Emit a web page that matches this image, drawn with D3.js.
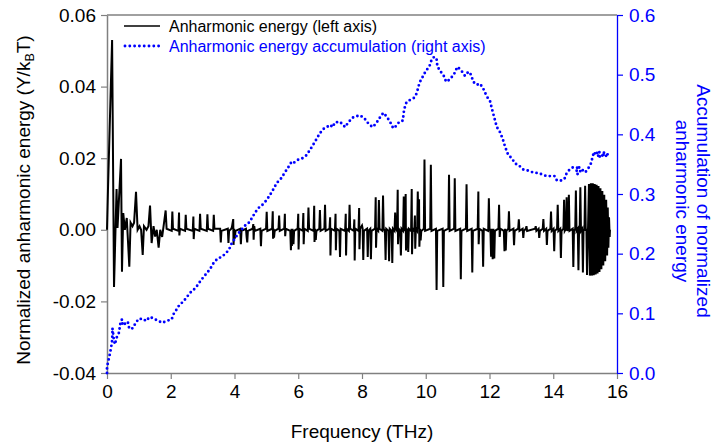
<!DOCTYPE html>
<html>
<head>
<meta charset="utf-8">
<script src="https://cdn.jsdelivr.net/npm/d3@7"></script>
<style>
  body { margin: 0; background: #fff; }
  text { font-family: "Liberation Sans", Arial, Helvetica, sans-serif; }
</style>
</head>
<body>
<svg id="chart" width="715" height="446"></svg>
<script>
// Anharmonic energy per mode: [frequency (THz), Y/kBT]
const energyPoints = [
  [0,0],[0.03,0.011],[0.16,0.053],[0.22,-0.016],[0.30,0.0114],[0.33,0.0005],[0.44,0.0198],[0.47,-0.0117],
  [0.51,0.0047],[0.56,0],[0.62,0.0033],[0.70,-0.0103],[0.74,0.002],[0.80,0.001],[0.85,0.002],[0.91,0.0106],
  [0.96,0],[1.02,0.001],[1.07,0],[1.12,-0.007],[1.16,0.001],[1.24,0],[1.30,0.001],[1.35,0.0068],[1.40,-0.0037],
  [1.46,0.001],[1.51,-0.0019],[1.56,0],[1.62,-0.005],[1.67,0],[1.73,-0.002],[1.79,0.002],[1.84,0.0054],[1.87,0.0003],
  [2.03,-0.0003],[2.05,0.0051],[2.07,0.0003],
  [2.24,-0.0003],[2.26,0.0048],[2.27,-0.0016],[2.29,0.0003],
  [2.45,-0.0003],[2.47,0.0042],[2.49,0.0003],
  [2.69,-0.0003],[2.71,0.0037],[2.72,-0.0026],[2.74,0.0003],
  [2.90,-0.0003],[2.92,0.0045],[2.94,0.0003],
  [3.13,-0.0003],[3.15,0.0043],[3.17,0.0003],
  [3.33,-0.0003],[3.35,0.0042],[3.37,0.0003],
  [3.55,0.0003],[3.57,-0.0035],[3.59,-0.0003],
  [3.79,0.0003],[3.81,-0.0037],[3.83,-0.0003],
  [3.90,0.0003],[3.92,0.0008],[3.96,0.0030],[3.97,-0.0042],[3.99,0.0003],[4.01,-0.0025],[4.03,-0.0003],
  [4.18,0.0003],[4.20,-0.0040],[4.22,-0.0003],
  [4.36,0.0003],[4.38,-0.0020],[4.40,-0.0035],[4.42,-0.0003],
  [4.57,0.0003],[4.59,0.0016],[4.60,-0.0028],[4.62,0.001],[4.64,-0.0003],
  [4.81,0.0003],[4.83,-0.0046],[4.85,-0.0003],
  [4.99,0.0003],[5.01,0.0050],[5.03,-0.0003],
  [5.18,0.0003],[5.20,0.0052],[5.21,-0.0025],[5.23,0.0003],[5.24,-0.0022],[5.26,-0.0003],
  [5.38,0.0003],[5.40,0.0040],[5.42,-0.0003],
  [5.56,0.0003],[5.58,0.0045],[5.59,-0.0018],[5.61,0.0003],
  [5.75,-0.0003],[5.77,-0.0057],[5.79,0.0003],[5.80,-0.0045],[5.82,0.0003],[5.85,-0.0040],[5.87,-0.0003],
  [5.98,0.0003],[6.00,0.0045],[6.01,-0.0055],[6.03,0.0003],
  [6.14,-0.0003],[6.16,0.0047],[6.17,-0.0040],[6.19,0.0003],
  [6.30,-0.0003],[6.32,0.0062],[6.34,0.0003],
  [6.48,-0.0003],[6.50,0.0067],[6.51,-0.0034],[6.53,0.0003],[6.55,-0.0028],[6.57,-0.0003],
  [6.66,0.0003],[6.68,0.0055],[6.70,-0.0003],
  [6.82,0.0003],[6.84,0.0070],[6.86,-0.0003],
  [6.98,0.0003],[7.00,0.0035],[7.01,-0.0072],[7.03,0.0003],
  [7.15,-0.0003],[7.17,0.0045],[7.18,-0.0057],[7.20,0.0003],
  [7.29,-0.0003],[7.31,-0.0076],[7.33,0.0003],
  [7.47,-0.0003],[7.49,0.0045],[7.50,-0.0072],[7.52,0.0003],
  [7.59,-0.0003],[7.61,0.0070],[7.63,0.0003],
  [7.74,-0.0003],[7.76,0.0029],[7.77,-0.0086],[7.79,0.0003],
  [7.89,-0.0003],[7.91,0.0061],[7.92,-0.0054],[7.94,0.0003],[8.00,0.0012],[8.02,0.0003],[8.04,-0.0084],[8.06,-0.0003],
  [8.16,0.0003],[8.18,-0.0076],[8.20,-0.0003],
  [8.26,0.0003],[8.28,-0.0082],[8.30,-0.0003],
  [8.41,0.0003],[8.43,0.0091],[8.44,-0.0050],[8.46,0.0003],
  [8.51,-0.0003],[8.53,0.0083],[8.55,0.0003],
  [8.64,-0.0003],[8.66,0.0096],[8.68,0.0003],
  [8.72,-0.0003],[8.74,-0.0084],[8.76,0.0003],
  [8.83,-0.0003],[8.85,-0.0088],[8.87,0.0003],
  [8.93,-0.0003],[8.95,-0.0093],[8.97,0.0003],
  [9.02,-0.0003],[9.04,0.0048],[9.06,0.0003],
  [9.10,-0.0003],[9.12,0.0112],[9.13,-0.0040],[9.15,0.0003],
  [9.20,-0.0003],[9.22,-0.0072],[9.24,0.0003],
  [9.29,-0.0003],[9.31,0.0093],[9.33,0.0003],
  [9.35,-0.0003],[9.37,0.0100],[9.38,-0.0058],[9.40,0.0003],
  [9.43,-0.0003],[9.45,-0.0062],[9.47,0.0003],
  [9.54,-0.0003],[9.56,0.0114],[9.57,-0.0068],[9.59,0.0003],
  [9.64,-0.0003],[9.66,0.0040],[9.67,-0.0053],[9.69,0.0003],
  [9.73,-0.0003],[9.75,0.0107],[9.77,0.0003],[9.79,0.0085],[9.80,-0.0047],[9.82,0.0003],[9.84,-0.0030],[9.86,-0.0003],
  [9.94,0.0003],[9.96,0.0196],[9.98,-0.0003],
  [10.14,0.0003],[10.16,0.0182],[10.18,-0.0003],
  [10.32,0.0003],[10.34,-0.0168],[10.36,-0.0003],
  [10.53,0.0003],[10.55,-0.0160],[10.57,-0.0003],
  [10.71,0.0003],[10.73,0.0154],[10.75,-0.0003],
  [10.89,0.0003],[10.91,0.0144],[10.93,-0.0003],
  [11.08,0.0003],[11.10,-0.0138],[11.12,-0.0003],
  [11.26,0.0003],[11.28,0.0127],[11.30,-0.0003],
  [11.44,0.0003],[11.46,-0.0119],[11.48,-0.0003],
  [11.63,0.0003],[11.65,0.0107],[11.66,-0.0040],[11.68,0.0003],
  [11.78,-0.0003],[11.80,-0.0103],[11.82,0.0003],
  [11.96,-0.0003],[11.98,0.0088],[12.00,0.0003],
  [12.03,-0.0003],[12.05,-0.0075],[12.07,0.0003],[12.10,-0.0082],[12.12,0.0003],[12.15,-0.0080],[12.17,-0.0003],
  [12.28,0.0003],[12.30,0.0070],[12.32,-0.0020],[12.34,0.0003],
  [12.45,-0.0003],[12.47,-0.0060],[12.49,0.0003],[12.51,-0.0058],[12.53,-0.0003],
  [12.59,0.0003],[12.61,0.0052],[12.63,-0.0003],
  [12.75,0.0003],[12.77,-0.0043],[12.79,-0.0003],
  [12.90,0.0003],[12.92,0.0029],[12.94,-0.0003],
  [13.04,0.0003],[13.06,-0.0023],[13.08,-0.0003],
  [13.14,0.0003],[13.16,0.0010],[13.18,-0.0003],
  [13.43,0.0003],[13.45,0.0010],[13.47,-0.0003],
  [13.54,0.0003],[13.56,-0.0023],[13.58,-0.0003],
  [13.67,0.0003],[13.69,0.0030],[13.71,-0.0003],
  [13.78,0.0003],[13.80,-0.0042],[13.82,-0.0003],
  [13.91,0.0003],[13.93,0.0051],[13.95,-0.0003],
  [14.01,0.0003],[14.03,-0.0060],[14.05,-0.0003],
  [14.12,0.0003],[14.14,0.0070],[14.16,-0.0003],
  [14.22,0.0003],[14.24,-0.0079],[14.26,-0.0003],
  [14.32,0.0003],[14.34,0.0084],[14.36,-0.0003],
  [14.40,0.0003],[14.42,0.0091],[14.44,-0.0003],
  [14.47,0.0003],[14.49,0.0098],[14.51,-0.0003],
  [14.61,0.0003],[14.63,-0.0104],[14.65,-0.0003],
  [14.69,0.0003],[14.71,0.0110],[14.73,-0.0003],
  [14.77,0.0003],[14.79,-0.0113],[14.81,-0.0003],
  [14.83,0.0003],[14.85,0.0119],[14.87,-0.0003],
  [14.91,0.0003],[14.93,-0.0119],[14.95,-0.0003],
  [14.98,0.0003],[15.00,0.0123],[15.02,-0.0003],
  [15.04,0.0003],[15.06,-0.0126],
  [15.12,0.0128],[15.15,-0.0128],[15.18,0.0130],[15.21,-0.0128],[15.24,0.0130],[15.27,-0.0127],
  [15.30,0.0128],[15.33,-0.0125],[15.36,0.0126],[15.39,-0.0122],[15.42,0.0122],[15.45,-0.0118],
  [15.48,0.0116],[15.51,-0.0110],[15.54,0.0108],[15.57,-0.0100],[15.60,0.0098],[15.63,-0.0088],
  [15.66,0.0084],[15.69,-0.0072],[15.71,0.0062],[15.73,-0.0050],[15.75,0.0035],[15.77,-0.0020],[15.78,0]
];

// Running accumulation of the normalized anharmonic energy: [frequency (THz), sum]
const accumulationPoints = [
  [0,0],[0,0.010],[0.05,0.022],[0.09,0.032],[0.13,0.043],[0.16,0.054],[0.17,0.065],[0.17,0.075],
  [0.22,0.054],[0.25,0.048],[0.30,0.059],[0.38,0.068],[0.41,0.081],[0.47,0.090],[0.49,0.080],[0.60,0.084],
  [0.65,0.086],[0.70,0.074],[0.81,0.075],[0.90,0.084],[1.00,0.091],[1.17,0.090],[1.21,0.087],[1.35,0.094],
  [1.46,0.091],[1.62,0.087],[1.73,0.084],[1.86,0.087],[2.03,0.090],[2.08,0.098],[2.19,0.107],[2.27,0.114],
  [2.38,0.119],[2.49,0.126],[2.60,0.134],[2.71,0.139],[2.78,0.143],[2.87,0.149],[2.94,0.155],[3.11,0.166],
  [3.23,0.174],[3.34,0.184],[3.47,0.192],[3.58,0.194],[3.72,0.200],[3.83,0.207],[3.91,0.217],[4.02,0.226],
  [4.12,0.234],[4.25,0.242],[4.38,0.250],[4.46,0.252],[4.54,0.259],[4.66,0.270],[4.78,0.278],[4.90,0.283],
  [5.01,0.290],[5.11,0.298],[5.22,0.308],[5.32,0.318],[5.46,0.326],[5.58,0.336],[5.69,0.345],[5.77,0.352],
  [5.80,0.350],[5.98,0.357],[6.13,0.360],[6.26,0.365],[6.37,0.374],[6.53,0.388],[6.68,0.402],[6.81,0.410],
  [6.92,0.413],[7.00,0.416],[7.08,0.412],[7.15,0.420],[7.31,0.421],[7.40,0.416],[7.47,0.412],[7.57,0.420],
  [7.71,0.428],[7.92,0.432],[8.06,0.428],[8.20,0.418],[8.33,0.412],[8.44,0.418],[8.56,0.428],[8.67,0.436],
  [8.77,0.430],[8.88,0.421],[8.98,0.410],[9.07,0.414],[9.17,0.421],[9.28,0.423],[9.32,0.441],[9.38,0.452],
  [9.45,0.456],[9.56,0.459],[9.63,0.461],[9.72,0.469],[9.77,0.480],[9.82,0.488],[9.92,0.498],[10.01,0.507],
  [10.11,0.513],[10.19,0.526],[10.27,0.530],[10.34,0.526],[10.36,0.516],[10.43,0.507],[10.55,0.500],
  [10.64,0.488],[10.76,0.492],[10.89,0.501],[10.99,0.513],[11.10,0.508],[11.23,0.498],[11.34,0.505],
  [11.42,0.500],[11.49,0.488],[11.60,0.483],[11.70,0.485],[11.80,0.477],[11.91,0.464],[12.02,0.455],
  [12.07,0.444],[12.14,0.430],[12.23,0.412],[12.31,0.406],[12.41,0.393],[12.49,0.379],[12.59,0.365],
  [12.70,0.360],[12.80,0.351],[12.90,0.349],[13.06,0.341],[13.22,0.339],[13.37,0.336],[13.53,0.335],
  [13.69,0.332],[13.79,0.330],[13.90,0.330],[14.04,0.330],[14.11,0.323],[14.21,0.322],[14.35,0.325],
  [14.42,0.335],[14.48,0.339],[14.56,0.343],[14.63,0.345],[14.75,0.344],[14.85,0.338],[14.78,0.333],
  [14.70,0.336],[14.80,0.345],[14.90,0.341],[15.00,0.336],[15.10,0.343],[15.18,0.351],[15.26,0.367],
  [15.37,0.369],[15.47,0.362],[15.58,0.366],[15.68,0.365],[15.73,0.368],[15.62,0.362],[15.50,0.366],
  [15.40,0.364],[15.30,0.368],[15.45,0.370],[15.60,0.369],[15.72,0.366]
];

const freqTicks = [0, 2, 4, 6, 8, 10, 12, 14, 16];
const energyTicks = [-0.04, -0.02, 0.00, 0.02, 0.04, 0.06];
const accumulationTicks = [0.0, 0.1, 0.2, 0.3, 0.4, 0.5, 0.6];
const legendLabels = ["Anharmonic energy (left axis)", "Anharmonic energy accumulation (right axis)"];

const BLUE = "#0000ff";
const AXIS_GRAY = "#808080";
const LABEL_SIZE = 19;

const svg = d3.select("#chart");
const margin = { left: 107, right: 98, top: 15, bottom: 73 };
const W = 715, H = 446;
const x0 = margin.left, x1 = W - margin.right, y0 = margin.top, y1 = H - margin.bottom;

const x = d3.scaleLinear().domain([0, 16]).range([x0, x1]);
const yLeft = d3.scaleLinear().domain([-0.04, 0.06]).range([y1, y0]);
const yRight = d3.scaleLinear().domain([0, 0.6]).range([y1, y0]);

// frame top line
svg.append("line").attr("x1", x0).attr("x2", x1).attr("y1", y0).attr("y2", y0)
  .attr("stroke", AXIS_GRAY).attr("stroke-width", 1.5);

// bottom axis
const gx = svg.append("g").attr("transform", `translate(0,${y1})`)
  .call(d3.axisBottom(x).tickValues(freqTicks).tickFormat(d => d).tickSize(6).tickSizeOuter(0).tickPadding(6));
gx.select(".domain").attr("stroke", AXIS_GRAY).attr("stroke-width", 1.5);
gx.selectAll(".tick line").attr("stroke", AXIS_GRAY).attr("stroke-width", 1.2);
gx.selectAll(".tick text").attr("font-size", LABEL_SIZE).attr("fill", "#000")
  .attr("font-family", "'Liberation Sans', Arial, sans-serif");

// left axis
const gl = svg.append("g").attr("transform", `translate(${x0},0)`)
  .call(d3.axisLeft(yLeft).tickValues(energyTicks).tickFormat(d => d.toFixed(2)).tickSize(6).tickSizeOuter(0).tickPadding(5));
gl.select(".domain").attr("stroke", AXIS_GRAY).attr("stroke-width", 1.5);
gl.selectAll(".tick line").attr("stroke", AXIS_GRAY).attr("stroke-width", 1.2);
gl.selectAll(".tick text").attr("font-size", LABEL_SIZE).attr("fill", "#000")
  .attr("font-family", "'Liberation Sans', Arial, sans-serif");

// right axis
const gr = svg.append("g").attr("transform", `translate(${x1},0)`)
  .call(d3.axisRight(yRight).tickValues(accumulationTicks).tickFormat(d => d.toFixed(1)).tickSize(6).tickSizeOuter(0).tickPadding(6));
gr.select(".domain").attr("stroke", BLUE).attr("stroke-width", 1.3);
gr.selectAll(".tick line").attr("stroke", BLUE).attr("stroke-width", 1.2);
gr.selectAll(".tick text").attr("font-size", LABEL_SIZE).attr("fill", BLUE)
  .attr("font-family", "'Liberation Sans', Arial, sans-serif");

// anharmonic energy line
const energyLine = d3.line().x(d => x(d[0])).y(d => yLeft(d[1]));
svg.append("path").datum(energyPoints).attr("d", energyLine)
  .attr("fill", "none").attr("stroke", "#000").attr("stroke-width", 2).attr("stroke-linejoin", "miter");

// accumulation dotted line
const accLine = d3.line().x(d => x(d[0])).y(d => yRight(d[1]));
svg.append("path").datum(accumulationPoints).attr("d", accLine)
  .attr("fill", "none").attr("stroke", BLUE).attr("stroke-width", 2.9)
  .attr("stroke-linecap", "round").attr("stroke-dasharray", "0 4.6");

// axis titles
svg.append("text").attr("x", (x0 + x1) / 2).attr("y", 438).attr("text-anchor", "middle")
  .attr("font-size", LABEL_SIZE).text("Frequency (THz)");

const lt = svg.append("text").attr("transform", `translate(30,${(y0 + y1) / 2 + 6}) rotate(-90)`)
  .attr("text-anchor", "middle").attr("font-size", LABEL_SIZE);
lt.append("tspan").text("Normalized anharmonic energy (Y/k");
lt.append("tspan").attr("font-size", 12.5).attr("dy", 4).text("B");
lt.append("tspan").attr("dy", -4).text("T)");

const rt = svg.append("text").attr("transform", `translate(697,201) rotate(90)`)
  .attr("text-anchor", "middle").attr("font-size", LABEL_SIZE).attr("fill", BLUE);
rt.append("tspan").attr("x", 0).attr("dy", 0).text("Accumulation of normalized");
rt.append("tspan").attr("x", 0).attr("dy", 21).text("anharmonic energy");

// legend
const legend = svg.append("g");
legend.append("line").attr("x1", 124).attr("x2", 160).attr("y1", 26).attr("y2", 26)
  .attr("stroke", "#000").attr("stroke-width", 1.5);
legend.append("text").attr("x", 169).attr("y", 31.5).attr("font-size", 16).attr("fill", "#000").text(legendLabels[0]);
legend.append("line").attr("x1", 125).attr("x2", 159).attr("y1", 46).attr("y2", 46)
  .attr("stroke", BLUE).attr("stroke-width", 2.9).attr("stroke-linecap", "round").attr("stroke-dasharray", "0 4.8");
legend.append("text").attr("x", 169).attr("y", 51.5).attr("font-size", 16).attr("fill", BLUE).text(legendLabels[1]);
</script>
</body>
</html>
